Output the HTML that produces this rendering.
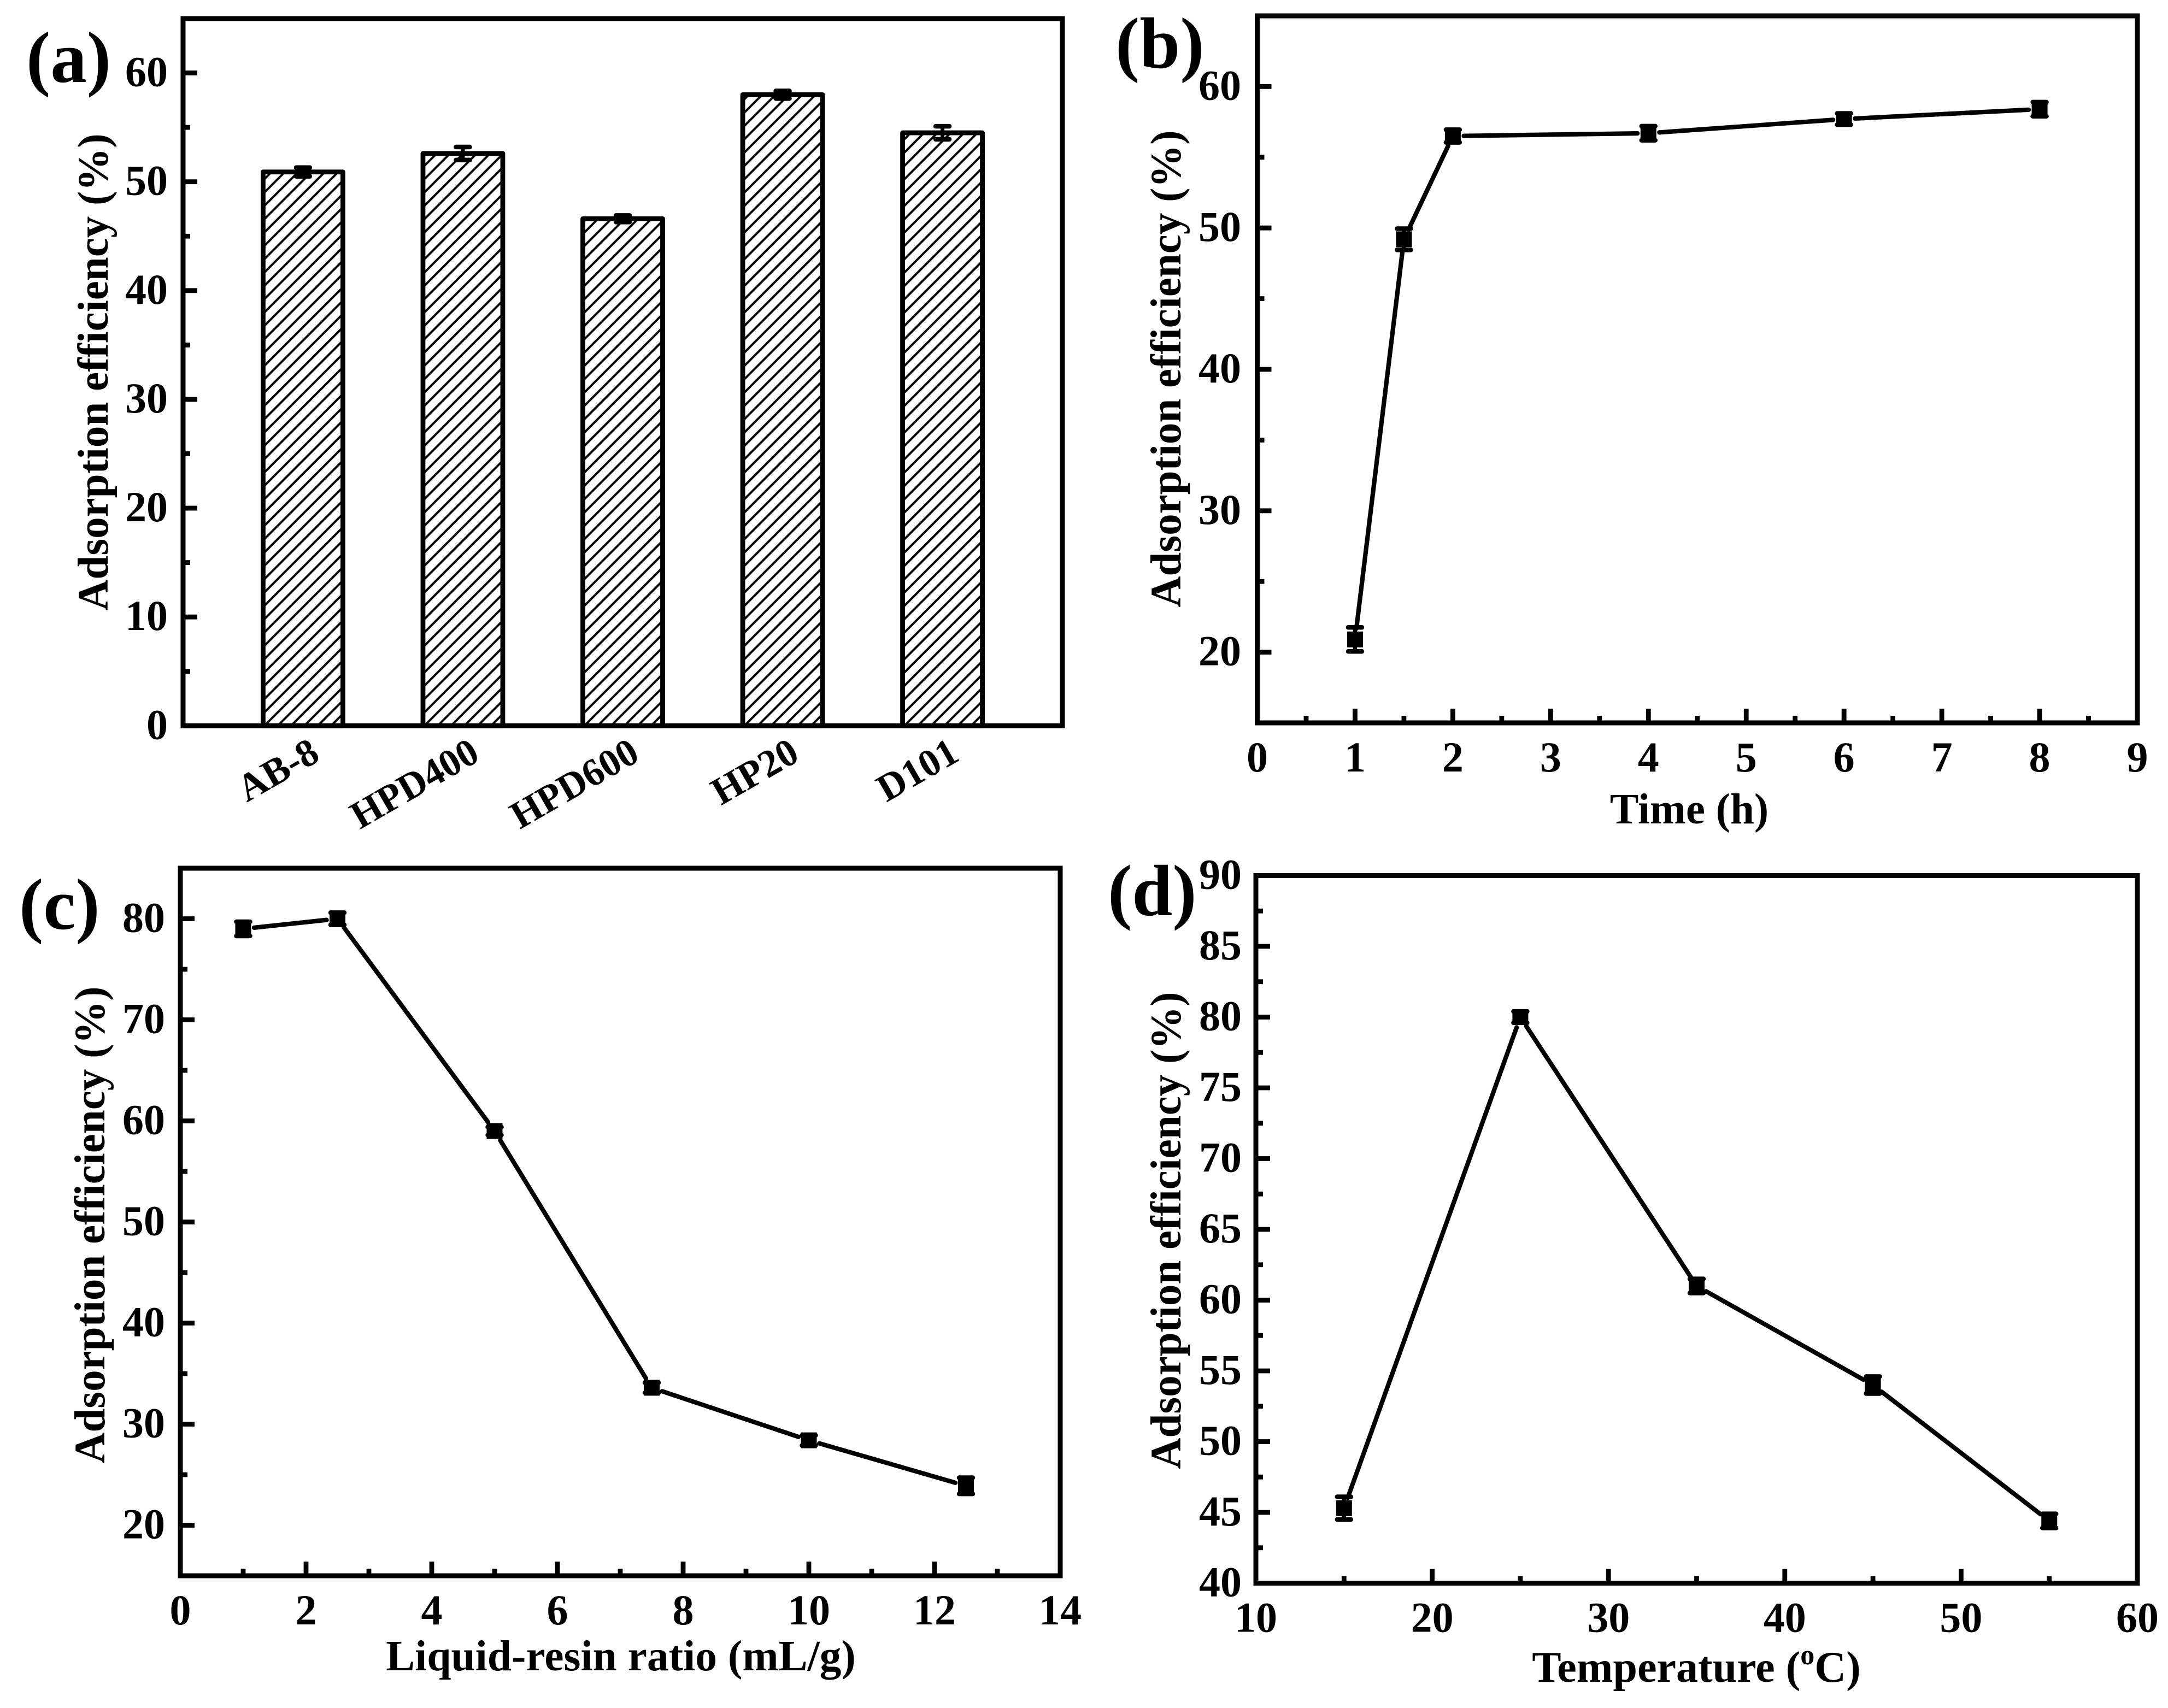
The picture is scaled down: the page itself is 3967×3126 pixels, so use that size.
<!DOCTYPE html>
<html lang="en">
<head>
<meta charset="utf-8">
<title>Adsorption efficiency charts</title>
<style>
html,body{margin:0;padding:0;background:#fff;}
svg{display:block;}
text{font-family:"Liberation Serif",serif;font-weight:bold;fill:#000;}
</style>
</head>
<body>
<svg id="figure" xmlns="http://www.w3.org/2000/svg" width="3967" height="3126" viewBox="0 0 3967 3126">
<defs>
<pattern id="bar-hatch" patternUnits="userSpaceOnUse" x="6.4" y="0" width="24.4" height="24.4">
<path d="M-3,3 L3,-3 M0,24.4 L24.4,0 M21.4,27.4 L27.4,21.4" stroke="#000" stroke-width="4" fill="none"/>
</pattern>
</defs>
<rect x="0" y="0" width="3967" height="3126" fill="#fff"/>
<text x="48" y="150" font-size="133">(a)</text>
<text x="2041" y="124" font-size="133">(b)</text>
<text x="35" y="1700" font-size="133">(c)</text>
<text x="2027" y="1675" font-size="133">(d)</text>
<text transform="translate(197,681) rotate(-90)" text-anchor="middle" font-size="79">Adsorption efficiency (%)</text>
<text transform="translate(2160,675) rotate(-90)" text-anchor="middle" font-size="79">Adsorption efficiency (%)</text>
<text transform="translate(191,2242) rotate(-90)" text-anchor="middle" font-size="79">Adsorption efficiency (%)</text>
<text transform="translate(2160,2252) rotate(-90)" text-anchor="middle" font-size="79">Adsorption efficiency (%)</text>
<text x="3091" y="1507" text-anchor="middle" font-size="79">Time (h)</text>
<text x="1136" y="3057" text-anchor="middle" font-size="79.5">Liquid-resin ratio (mL/g)</text>
<text x="3104" y="3078" text-anchor="middle" font-size="80">Temperature (<tspan font-size="52" dy="-32">o</tspan><tspan dy="32">C)</tspan></text>
</svg>
<script>
// Panel (a): resin screening
const aCategories = ['AB-8', 'HPD400', 'HPD600', 'HP20', 'D101'];
const aValues = [50.9, 52.6, 46.6, 58.0, 54.5];
const aErrors = [0.4, 0.6, 0.3, 0.35, 0.6];
const aYTicks = [0, 10, 20, 30, 40, 50, 60];
const aYMinor = [5, 15, 25, 35, 45, 55];

// Panel (b): time
const bTimes = [1, 1.5, 2, 4, 6, 8];
const bValues = [20.9, 49.2, 56.5, 56.7, 57.7, 58.4];
const bErrors = [0.85, 0.75, 0.45, 0.5, 0.4, 0.5];
const bXTicks = [0, 1, 2, 3, 4, 5, 6, 7, 8, 9];
const bXMinor = [0.5, 1.5, 2.5, 3.5, 4.5, 5.5, 6.5, 7.5, 8.5];
const bYTicks = [20, 30, 40, 50, 60];
const bYMinor = [25, 35, 45, 55];

// Panel (c): liquid-resin ratio
const cRatios = [1, 2.5, 5, 7.5, 10, 12.5];
const cValues = [79.0, 80.0, 59.0, 33.6, 28.4, 23.9];
const cErrors = [0.7, 0.6, 0.4, 0.5, 0.5, 0.8];
const cXTicks = [0, 2, 4, 6, 8, 10, 12, 14];
const cXMinor = [1, 3, 5, 7, 9, 11, 13];
const cYTicks = [20, 30, 40, 50, 60, 70, 80];
const cYMinor = [25, 35, 45, 55, 65, 75];

// Panel (d): temperature
const dTemps = [15, 25, 35, 45, 55];
const dValues = [45.3, 80.0, 61.0, 54.0, 44.4];
const dErrors = [0.8, 0.4, 0.5, 0.6, 0.5];
const dXTicks = [10, 20, 30, 40, 50, 60];
const dXMinor = [15, 25, 35, 45, 55];
const dYTicks = [40, 45, 50, 55, 60, 65, 70, 75, 80, 85, 90];
const dYMinor = [42.5, 47.5, 52.5, 57.5, 62.5, 67.5, 72.5, 77.5, 82.5, 87.5];

const SVG_NS = 'http://www.w3.org/2000/svg';
const figure = document.getElementById('figure');
const FRAME_W = 9;
const TICK_W = 8.8;
const MAJOR_LEN = 26;
const MINOR_LEN = 13;
const TICK_FONT = 78;

function mk(tag, attrs, parent) {
  const node = document.createElementNS(SVG_NS, tag);
  Object.keys(attrs).forEach(function (k) { node.setAttribute(k, attrs[k]); });
  (parent || figure).appendChild(node);
  return node;
}
function linear(d0, d1, p0, p1) {
  return function (v) { return p0 + (v - d0) * (p1 - p0) / (d1 - d0); };
}

function drawFrame(g, box) {
  const frame = mk('rect', { x: box.left, y: box.top, width: box.right - box.left, height: box.bottom - box.top, fill: 'none', stroke: '#000', 'stroke-width': FRAME_W }, g);
  
  
}

function drawYAxis(g, box, y, majors, minors, labelRight) {
  majors.forEach(function (v) {
    const tick = mk('line', { x1: box.left, x2: box.left + MAJOR_LEN, y1: y(v), y2: y(v), stroke: '#000', 'stroke-width': TICK_W }, g);
    
    
    const label = mk('text', { x: labelRight, y: y(v) + 24, 'text-anchor': 'end', 'font-size': TICK_FONT }, g);
    label.textContent = String(v);
    
    
  });
  minors.forEach(function (v) {
    const tick = mk('line', { x1: box.left, x2: box.left + MINOR_LEN, y1: y(v), y2: y(v), stroke: '#000', 'stroke-width': TICK_W }, g);
    
    
  });
}

function drawXAxis(g, box, x, majors, minors) {
  majors.forEach(function (v) {
    const tick = mk('line', { x1: x(v), x2: x(v), y1: box.bottom, y2: box.bottom - MAJOR_LEN, stroke: '#000', 'stroke-width': TICK_W }, g);
    
    
    const label = mk('text', { x: x(v), y: box.bottom + 89, 'text-anchor': 'middle', 'font-size': TICK_FONT }, g);
    label.textContent = String(v);
    
    
  });
  minors.forEach(function (v) {
    const tick = mk('line', { x1: x(v), x2: x(v), y1: box.bottom, y2: box.bottom - MINOR_LEN, stroke: '#000', 'stroke-width': TICK_W }, g);
    
    
  });
}

function drawErrorBar(g, cx, yHigh, yLow) {
  const stem = mk('line', { x1: cx, x2: cx, y1: yHigh, y2: yLow, stroke: '#000', 'stroke-width': 7 }, g);
  
  
  const capTop = mk('line', { x1: cx - 12.5, x2: cx + 12.5, y1: yHigh, y2: yHigh, stroke: '#000', 'stroke-width': 8.5, 'stroke-linecap': 'round' }, g);
  
  
  const capBottom = mk('line', { x1: cx - 12.5, x2: cx + 12.5, y1: yLow, y2: yLow, stroke: '#000', 'stroke-width': 8.5, 'stroke-linecap': 'round' }, g);
  
  
}

function drawSeries(g, x, y, xs, ys, errs) {
  const GAP = 20;
  for (let i = 0; i + 1 < xs.length; i++) {
    const x0 = x(xs[i]), y0 = y(ys[i]), x1 = x(xs[i + 1]), y1 = y(ys[i + 1]);
    const len = Math.hypot(x1 - x0, y1 - y0);
    const ux = (x1 - x0) / len, uy = (y1 - y0) / len;
    const seg = mk('line', { x1: x0 + ux * GAP, y1: y0 + uy * GAP, x2: x1 - ux * GAP, y2: y1 - uy * GAP, stroke: '#000', 'stroke-width': 8.2, 'stroke-linecap': 'round' }, g);
    
    
  }
  xs.forEach(function (xv, i) {
    const cx = x(xv), cy = y(ys[i]);
    drawErrorBar(g, cx, y(ys[i] + errs[i]), y(ys[i] - errs[i]));
    const point = mk('rect', { x: cx - 14.5, y: cy - 14.5, width: 29, height: 29, fill: '#000' }, g);
    
    
  });
}

// ---- Panel (a) ----
(function () {
  const g = mk('g', {});
  
  
  const box = { left: 335, right: 1944, top: 34, bottom: 1328.3 };
  const x = linear(0.25, 5.75, box.left, box.right);
  const y = linear(0, 65, box.bottom, box.top);
  aCategories.forEach(function (name, i) {
    const cx = x(i + 1);
    const top = y(aValues[i]);
    const bar = mk('rect', { x: cx - 73, y: top, width: 146, height: box.bottom - top, fill: 'url(#bar-hatch)', stroke: '#000', 'stroke-width': 8.8, 'stroke-linejoin': 'round' }, g);
    
    
    drawErrorBar(g, cx, y(aValues[i] + aErrors[i]), y(aValues[i] - aErrors[i]));
    const label = mk('text', { transform: 'translate(' + (cx + 34) + ',1390) rotate(-30)', 'text-anchor': 'end', 'font-size': 71 }, g);
    label.textContent = name;
    
    
  });
  drawYAxis(g, box, y, aYTicks, aYMinor, 307);
  drawFrame(g, box);
})();

// ---- Panel (b) ----
(function () {
  const g = mk('g', {});
  
  
  const box = { left: 2300.5, right: 3911, top: 29, bottom: 1323 };
  const x = linear(0, 9, box.left, box.right);
  const y = linear(15, 65, box.bottom, box.top);
  drawYAxis(g, box, y, bYTicks, bYMinor, 2271);
  drawXAxis(g, box, x, bXTicks, bXMinor);
  drawFrame(g, box);
  drawSeries(g, x, y, bTimes, bValues, bErrors);
})();

// ---- Panel (c) ----
(function () {
  const g = mk('g', {});
  
  
  const box = { left: 330, right: 1940, top: 1589, bottom: 2884 };
  const x = linear(0, 14, box.left, box.right);
  const y = linear(15, 85, box.bottom, box.top);
  drawYAxis(g, box, y, cYTicks, cYMinor, 302);
  drawXAxis(g, box, x, cXTicks, cXMinor);
  drawFrame(g, box);
  drawSeries(g, x, y, cRatios, cValues, cErrors);
})();

// ---- Panel (d) ----
(function () {
  const g = mk('g', {});
  
  
  const box = { left: 2298, right: 3911, top: 1602.5, bottom: 2897.5 };
  const x = linear(10, 60, box.left, box.right);
  const y = linear(40, 90, box.bottom, box.top);
  drawYAxis(g, box, y, dYTicks, dYMinor, 2272);
  drawXAxis(g, box, x, dXTicks, dXMinor);
  drawFrame(g, box);
  drawSeries(g, x, y, dTemps, dValues, dErrors);
})();
</script>
</body>
</html>
